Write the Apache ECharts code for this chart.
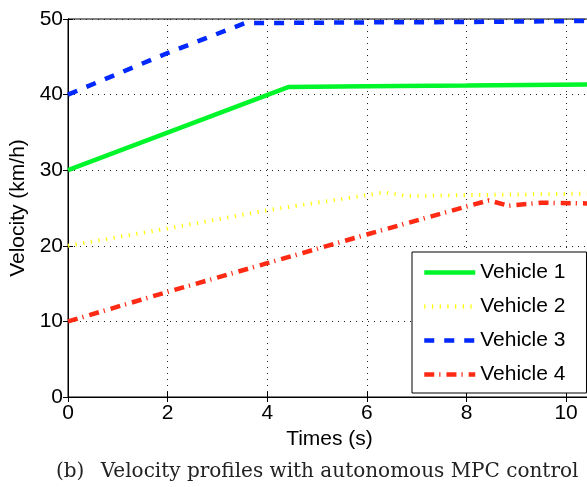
<!DOCTYPE html>
<html>
<head>
<meta charset="utf-8">
<script src="https://cdn.jsdelivr.net/npm/echarts@6/dist/echarts.min.js"></script>
<style>
html,body{margin:0;padding:0;background:#fff;}
#c{width:587px;height:487px;}
</style>
</head>
<body>
<div id="c"></div>
<script>
// ---- data ----
var seriesNames = ['Vehicle 1', 'Vehicle 2', 'Vehicle 3', 'Vehicle 4'];
var v1Time  = [0, 4.42, 6, 8, 10.5];
var v1Speed = [30, 41.0, 41.1, 41.2, 41.35];
var v2Time  = [0, 2, 4, 6.35, 6.8, 8, 10.5];
var v2Speed = [20, 22.3, 24.7, 27.05, 26.6, 26.7, 26.9];
var v3Time  = [0, 2, 3.55, 6, 8, 10.5];
var v3Speed = [40, 45.5, 49.45, 49.55, 49.6, 49.75];
var v4Time  = [0, 2, 4, 6, 8, 8.45, 8.85, 9.5, 10.5];
var v4Speed = [10, 13.9, 17.7, 21.5, 25.2, 26.0, 25.3, 25.7, 25.6];
var xTicks = [0, 2, 4, 6, 8, 10];
var yTicks = [0, 10, 20, 30, 40, 50];
var xTitle = 'Times (s)';
var yTitle = 'Velocity (km/h)';
var caption = '(b)\u2002 Velocity profiles with autonomous MPC control';

function pairs(xs, ys) { return xs.map(function (x, i) { return [x, ys[i]]; }); }

var FONT = '"Liberation Sans", Arial, Helvetica, sans-serif';
var chart = echarts.init(document.getElementById('c'), null, {renderer: 'canvas'});

var gridLine = {show: true, lineStyle: {color: '#222', width: 1, type: [1, 5]}};

var option = {
  animation: false,
  backgroundColor: '#fff',
  title: {
    text: caption,
    left: 56,
    top: 462,
    padding: 0,
    textStyle: {fontFamily: '"DejaVu Serif", serif', fontSize: 20, fontWeight: 'normal', color: '#222'}
  },
  grid: {
    left: 68, top: 19, right: -4, bottom: 90,
    containLabel: false, outerBoundsMode: 'none',
    show: true, borderColor: '#000', borderWidth: 1, backgroundColor: 'transparent'
  },
  legend: {
    orient: 'vertical',
    left: 412, top: 252,
    padding: [10, 21, 8, 10],
    itemWidth: 51, itemHeight: 20, itemGap: 13,
    backgroundColor: '#fff',
    borderColor: '#000', borderWidth: 1,
    itemStyle: {color: 'rgba(0,0,0,0)', borderWidth: 0, opacity: 0},
    lineStyle: {width: 4.5},
    textStyle: {fontFamily: FONT, fontSize: 21, color: '#000'},
    data: seriesNames
  },
  xAxis: [{
    type: 'value', min: 0, max: 10.5, interval: 2,
    position: 'bottom',
    name: xTitle, nameLocation: 'middle', nameGap: 30,
    nameTextStyle: {fontFamily: FONT, fontSize: 21, color: '#000'},
    axisLine: {show: true, lineStyle: {color: '#000', width: 1}},
    axisTick: {show: true, inside: true, length: 5, lineStyle: {color: '#000'}},
    axisLabel: {fontFamily: FONT, fontSize: 21, color: '#000', margin: 6, showMaxLabel: false,
      formatter: function (v) { return xTicks.indexOf(v) >= 0 ? String(v) : ''; }},
    splitLine: gridLine
  }, {
    type: 'value', min: 0, max: 10.5, interval: 2,
    position: 'top',
    axisLine: {show: true, lineStyle: {color: '#000', width: 1}},
    axisTick: {show: true, inside: true, length: 5, lineStyle: {color: '#000'}},
    axisLabel: {show: false},
    splitLine: {show: false}
  }],
  yAxis: [{
    type: 'value', min: 0, max: 50, interval: 10,
    position: 'left',
    name: yTitle, nameLocation: 'middle', nameGap: 32,
    nameTextStyle: {fontFamily: FONT, fontSize: 21, color: '#000'},
    axisLine: {show: true, lineStyle: {color: '#000', width: 1}},
    axisTick: {show: true, inside: true, length: 5, lineStyle: {color: '#000'}},
    axisLabel: {fontFamily: FONT, fontSize: 21, color: '#000', margin: 5,
      formatter: function (v) { return yTicks.indexOf(v) >= 0 ? String(v) : ''; }},
    splitLine: gridLine
  }, {
    type: 'value', min: 0, max: 50, interval: 10,
    position: 'right',
    axisLine: {show: true, lineStyle: {color: '#000', width: 1}},
    axisTick: {show: true, inside: true, length: 5, lineStyle: {color: '#000'}},
    axisLabel: {show: false},
    splitLine: {show: false}
  }],
  series: [{
    name: seriesNames[0], type: 'line', symbol: 'none',
    data: pairs(v1Time, v1Speed),
    lineStyle: {color: '#00f52a', width: 4.5, type: 'solid'},
    itemStyle: {color: '#00f52a'}
  }, {
    name: seriesNames[1], type: 'line', symbol: 'none',
    data: pairs(v2Time, v2Speed),
    lineStyle: {color: '#ffff00', width: 4, type: [1.2, 6.5]},
    itemStyle: {color: '#ffff00'}
  }, {
    name: seriesNames[2], type: 'line', symbol: 'none',
    data: pairs(v3Time, v3Speed),
    lineStyle: {color: '#0028ff', width: 4.5, type: [10, 10]},
    itemStyle: {color: '#0028ff'}
  }, {
    name: seriesNames[3], type: 'line', symbol: 'none',
    data: pairs(v4Time, v4Speed),
    lineStyle: {color: '#ff2a14', width: 4.5, type: [10, 5, 1.2, 6]},
    itemStyle: {color: '#ff2a14'}
  }]
};
chart.setOption(option);
</script>
</body>
</html>
